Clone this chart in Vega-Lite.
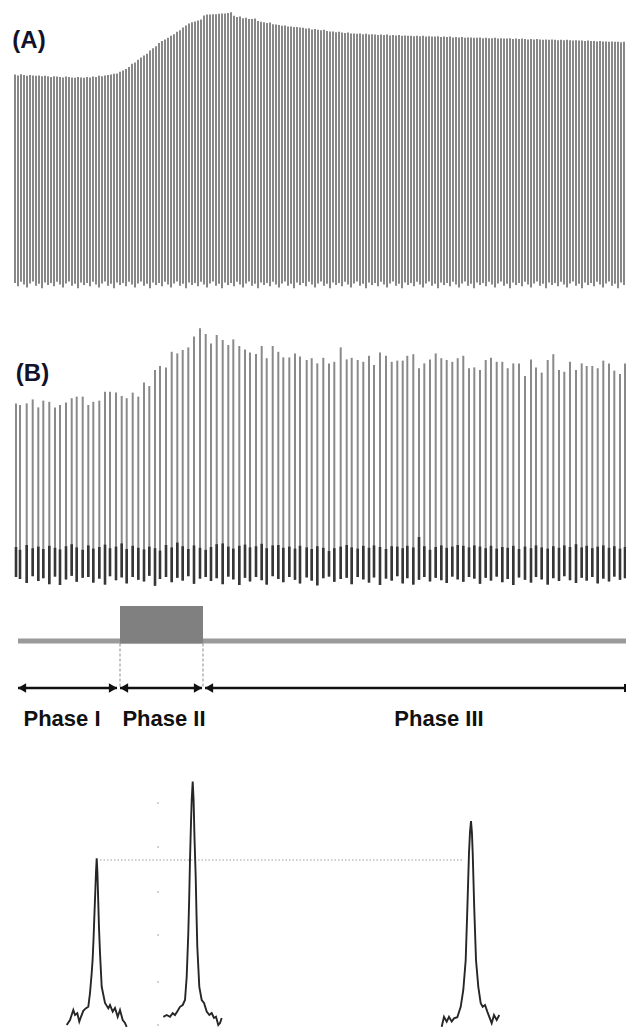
{
"$schema":"https://vega.github.io/schema/vega-lite/v6.json",
"padding":0,
"spacing":0,
"bounds":"flush",
"config":{"view":{"stroke":null},"font":"Liberation Sans"},
"datasets":{
"spikesA":[
{"t":15,"v":52.6,"b":0.5},{"t":18,"v":52.4,"b":-0.3},{"t":21,"v":52.7,"b":0.8},{"t":24,"v":52.5,"b":0.1},{"t":27,"v":52.3,"b":-0.6},{"t":30,"v":52.5,"b":0.4},{"t":33,"v":52.4,"b":0.9},{"t":36,"v":52.3,"b":-0.2},{"t":39,"v":52.4,"b":0.3},{"t":42,"v":52.2,"b":-0.8},{"t":45,"v":52.3,"b":0.6},{"t":48,"v":52.2,"b":0},
{"t":51,"v":52.0,"b":0.5},{"t":54,"v":52.2,"b":-0.3},{"t":57,"v":52.1,"b":0.8},{"t":60,"v":52.0,"b":0.1},{"t":63,"v":51.9,"b":-0.6},{"t":66,"v":52.1,"b":0.4},{"t":69,"v":52.0,"b":0.9},{"t":72,"v":51.9,"b":-0.2},{"t":75,"v":51.8,"b":0.3},{"t":78,"v":52.0,"b":-0.8},{"t":81,"v":51.9,"b":0.6},{"t":84,"v":51.8,"b":0},
{"t":87,"v":52.0,"b":0.5},{"t":90,"v":51.9,"b":-0.3},{"t":93,"v":52.1,"b":0.8},{"t":96,"v":52.0,"b":0.1},{"t":99,"v":52.3,"b":-0.6},{"t":102,"v":52.2,"b":0.4},{"t":105,"v":52.4,"b":0.9},{"t":108,"v":52.5,"b":-0.2},{"t":111,"v":52.6,"b":0.3},{"t":114,"v":52.8,"b":-0.8},{"t":117,"v":52.9,"b":0.6},{"t":120,"v":53.3,"b":0},
{"t":123,"v":53.6,"b":0.5},{"t":126,"v":54.0,"b":-0.3},{"t":129,"v":54.5,"b":0.8},{"t":132,"v":55.3,"b":0.1},{"t":135,"v":55.6,"b":-0.6},{"t":138,"v":56.3,"b":0.4},{"t":141,"v":56.9,"b":0.9},{"t":144,"v":57.4,"b":-0.2},{"t":147,"v":57.8,"b":0.3},{"t":150,"v":58.6,"b":-0.8},{"t":153,"v":59.2,"b":0.6},{"t":156,"v":59.7,"b":0},
{"t":159,"v":60.5,"b":0.5},{"t":162,"v":61.0,"b":-0.3},{"t":165,"v":61.4,"b":0.8},{"t":168,"v":61.8,"b":0.1},{"t":171,"v":62.3,"b":-0.6},{"t":174,"v":62.7,"b":0.4},{"t":177,"v":63.3,"b":0.9},{"t":180,"v":63.7,"b":-0.2},{"t":183,"v":64.4,"b":0.3},{"t":186,"v":64.9,"b":-0.8},{"t":189,"v":65.4,"b":0.6},{"t":192,"v":65.7,"b":0},
{"t":195,"v":65.9,"b":0.5},{"t":198,"v":66.1,"b":-0.3},{"t":201,"v":66.4,"b":0.8},{"t":204,"v":67.4,"b":0.1},{"t":207,"v":67.6,"b":-0.6},{"t":210,"v":67.6,"b":0.4},{"t":213,"v":67.7,"b":0.9},{"t":216,"v":67.7,"b":-0.2},{"t":219,"v":67.8,"b":0.3},{"t":222,"v":67.9,"b":-0.8},{"t":225,"v":67.9,"b":0.6},{"t":228,"v":68.0,"b":0},
{"t":231,"v":68.2,"b":0.5},{"t":234,"v":67.3,"b":-0.3},{"t":237,"v":67.0,"b":0.8},{"t":240,"v":67.1,"b":0.1},{"t":243,"v":66.7,"b":-0.6},{"t":246,"v":66.8,"b":0.4},{"t":249,"v":66.5,"b":0.9},{"t":252,"v":66.5,"b":-0.2},{"t":255,"v":66.6,"b":0.3},{"t":258,"v":66.0,"b":-0.8},{"t":261,"v":65.8,"b":0.6},{"t":264,"v":65.7,"b":0},
{"t":267,"v":65.5,"b":0.5},{"t":270,"v":65.6,"b":-0.3},{"t":273,"v":65.2,"b":0.8},{"t":276,"v":65.1,"b":0.1},{"t":279,"v":65.0,"b":-0.6},{"t":282,"v":64.8,"b":0.4},{"t":285,"v":64.9,"b":0.9},{"t":288,"v":64.6,"b":-0.2},{"t":291,"v":64.6,"b":0.3},{"t":294,"v":64.5,"b":-0.8},{"t":297,"v":64.5,"b":0.6},{"t":300,"v":64.4,"b":0},
{"t":303,"v":64.3,"b":0.5},{"t":306,"v":64.1,"b":-0.3},{"t":309,"v":64.2,"b":0.8},{"t":312,"v":63.9,"b":0.1},{"t":315,"v":64.0,"b":-0.6},{"t":318,"v":63.8,"b":0.4},{"t":321,"v":63.7,"b":0.9},{"t":324,"v":63.8,"b":-0.2},{"t":327,"v":63.5,"b":0.3},{"t":330,"v":63.4,"b":-0.8},{"t":333,"v":63.4,"b":0.6},{"t":336,"v":63.2,"b":0},
{"t":339,"v":63.3,"b":0.5},{"t":342,"v":63.1,"b":-0.3},{"t":345,"v":63.0,"b":0.8},{"t":348,"v":63.1,"b":0.1},{"t":351,"v":62.9,"b":-0.6},{"t":354,"v":62.9,"b":0.4},{"t":357,"v":62.8,"b":0.9},{"t":360,"v":62.9,"b":-0.2},{"t":363,"v":62.7,"b":0.3},{"t":366,"v":62.8,"b":-0.8},{"t":369,"v":62.6,"b":0.6},{"t":372,"v":62.7,"b":0},
{"t":375,"v":62.6,"b":0.5},{"t":378,"v":62.5,"b":-0.3},{"t":381,"v":62.6,"b":0.8},{"t":384,"v":62.5,"b":0.1},{"t":387,"v":62.6,"b":-0.6},{"t":390,"v":62.4,"b":0.4},{"t":393,"v":62.5,"b":0.9},{"t":396,"v":62.4,"b":-0.2},{"t":399,"v":62.5,"b":0.3},{"t":402,"v":62.3,"b":-0.8},{"t":405,"v":62.4,"b":0.6},{"t":408,"v":62.3,"b":0},
{"t":411,"v":62.3,"b":0.5},{"t":414,"v":62.2,"b":-0.3},{"t":417,"v":62.3,"b":0.8},{"t":420,"v":62.2,"b":0.1},{"t":423,"v":62.3,"b":-0.6},{"t":426,"v":62.1,"b":0.4},{"t":429,"v":62.2,"b":0.9},{"t":432,"v":62.1,"b":-0.2},{"t":435,"v":62.1,"b":0.3},{"t":438,"v":62.2,"b":-0.8},{"t":441,"v":62.0,"b":0.6},{"t":444,"v":62.1,"b":0},
{"t":447,"v":62.0,"b":0.5},{"t":450,"v":62.1,"b":-0.3},{"t":453,"v":61.9,"b":0.8},{"t":456,"v":62.0,"b":0.1},{"t":459,"v":61.9,"b":-0.6},{"t":462,"v":62.0,"b":0.4},{"t":465,"v":61.8,"b":0.9},{"t":468,"v":61.9,"b":-0.2},{"t":471,"v":61.9,"b":0.3},{"t":474,"v":61.8,"b":-0.8},{"t":477,"v":61.8,"b":0.6},{"t":480,"v":61.9,"b":0},
{"t":483,"v":61.7,"b":0.5},{"t":486,"v":61.8,"b":-0.3},{"t":489,"v":61.7,"b":0.8},{"t":492,"v":61.7,"b":0.1},{"t":495,"v":61.8,"b":-0.6},{"t":498,"v":61.6,"b":0.4},{"t":501,"v":61.7,"b":0.9},{"t":504,"v":61.6,"b":-0.2},{"t":507,"v":61.6,"b":0.3},{"t":510,"v":61.7,"b":-0.8},{"t":513,"v":61.5,"b":0.6},{"t":516,"v":61.6,"b":0},
{"t":519,"v":61.5,"b":0.5},{"t":522,"v":61.6,"b":-0.3},{"t":525,"v":61.5,"b":0.8},{"t":528,"v":61.4,"b":0.1},{"t":531,"v":61.5,"b":-0.6},{"t":534,"v":61.4,"b":0.4},{"t":537,"v":61.5,"b":0.9},{"t":540,"v":61.4,"b":-0.2},{"t":543,"v":61.3,"b":0.3},{"t":546,"v":61.4,"b":-0.8},{"t":549,"v":61.3,"b":0.6},{"t":552,"v":61.4,"b":0},
{"t":555,"v":61.3,"b":0.5},{"t":558,"v":61.2,"b":-0.3},{"t":561,"v":61.3,"b":0.8},{"t":564,"v":61.2,"b":0.1},{"t":567,"v":61.3,"b":-0.6},{"t":570,"v":61.2,"b":0.4},{"t":573,"v":61.1,"b":0.9},{"t":576,"v":61.2,"b":-0.2},{"t":579,"v":61.1,"b":0.3},{"t":582,"v":61.1,"b":-0.8},{"t":585,"v":61.0,"b":0.6},{"t":588,"v":61.1,"b":0},
{"t":591,"v":61.0,"b":0.5},{"t":594,"v":61.0,"b":-0.3},{"t":597,"v":60.9,"b":0.8},{"t":600,"v":61.0,"b":0.1},{"t":603,"v":60.9,"b":-0.6},{"t":606,"v":60.9,"b":0.4},{"t":609,"v":60.8,"b":0.9},{"t":612,"v":60.9,"b":-0.2},{"t":615,"v":60.8,"b":0.3},{"t":618,"v":60.8,"b":-0.8},{"t":621,"v":60.7,"b":0.6},{"t":624,"v":60.8,"b":0}
],
"spikesB":[
{"t":16,"v":43.4,"d":7.5,"b":0},{"t":20,"v":43.0,"d":6.8,"b":-0.5},{"t":26.7,"v":43.4,"d":8.0,"b":-1.5},{"t":32.7,"v":44.4,"d":7.2,"b":0.2},{"t":38.3,"v":42.4,"d":7.6,"b":-1.0},{"t":43.3,"v":44.1,"d":7.0,"b":-0.3},{"t":49.3,"v":43.8,"d":7.8,"b":-1.8},{"t":55,"v":42.4,"d":7.3,"b":0.1},{"t":60,"v":43.0,"d":6.9,"b":-2.0},{"t":66,"v":43.6,"d":7.7,"b":-0.6},
{"t":71.7,"v":44.7,"d":8.2,"b":0.3},{"t":76.7,"v":45.1,"d":7.4,"b":-1.2},{"t":82.7,"v":45.1,"d":6.8,"b":-0.2},{"t":88.3,"v":43.0,"d":7.9,"b":0},{"t":93.3,"v":43.8,"d":7.1,"b":-1.4},{"t":99.3,"v":44.1,"d":7.5,"b":-0.4},{"t":105,"v":46.3,"d":8.1,"b":-1.9},{"t":110,"v":46.3,"d":7.2,"b":0.2},{"t":116,"v":46.1,"d":7.6,"b":-0.8},{"t":121.7,"v":45.25,"d":8.4,"b":-0.1},
{"t":126.7,"v":44.7,"d":7.0,"b":-1.6},{"t":132.7,"v":46.1,"d":7.8,"b":0},{"t":138.3,"v":45.1,"d":7.3,"b":-0.7},{"t":144,"v":48.6,"d":6.9,"b":-1.1},{"t":149.3,"v":47.75,"d":7.6,"b":0.3},{"t":155,"v":51.75,"d":7.2,"b":-2.2},{"t":160,"v":52.75,"d":6.6,"b":-0.5},{"t":166,"v":52.4,"d":8.0,"b":0},{"t":171.7,"v":56.3,"d":7.4,"b":-1.3},{"t":177.3,"v":55.9,"d":8.6,"b":-0.2},
{"t":182.7,"v":56.75,"d":7.7,"b":-0.9},{"t":188.3,"v":57.4,"d":7.0,"b":0.2},{"t":194,"v":60.1,"d":7.9,"b":-1.7},{"t":200,"v":62.2,"d":7.3,"b":-0.4},{"t":205.7,"v":60.75,"d":6.8,"b":0},{"t":211,"v":58.4,"d":7.5,"b":-1.0},{"t":216.7,"v":60.5,"d":8.2,"b":-0.3},{"t":222.7,"v":59.25,"d":8.4,"b":-1.8},{"t":228.3,"v":58.0,"d":7.6,"b":0.1},{"t":233.3,"v":59.4,"d":7.1,"b":-0.6},
{"t":239.3,"v":57.75,"d":7.8,"b":-2.0},{"t":245,"v":56.9,"d":8.1,"b":-0.2},{"t":250,"v":56.1,"d":7.4,"b":-1.1},{"t":256,"v":55.75,"d":7.7,"b":0},{"t":261.7,"v":57.75,"d":8.3,"b":-0.8},{"t":266.7,"v":54.7,"d":7.2,"b":-1.9},{"t":272.7,"v":57.75,"d":7.9,"b":0.2},{"t":278.3,"v":56.3,"d":8.0,"b":-0.5},{"t":283.3,"v":54.9,"d":7.3,"b":-1.3},{"t":289.3,"v":54.9,"d":7.6,"b":0},
{"t":295,"v":55.9,"d":7.1,"b":-0.7},{"t":300,"v":55.1,"d":7.8,"b":-1.6},{"t":306.7,"v":54.25,"d":7.4,"b":-0.1},{"t":311.7,"v":54.7,"d":7.0,"b":-0.9},{"t":317.3,"v":53.4,"d":7.7,"b":-2.1},{"t":323.3,"v":54.8,"d":7.3,"b":-0.3},{"t":329,"v":53.4,"d":6.5,"b":0.1},{"t":334.3,"v":53.8,"d":7.2,"b":-1.2},{"t":340.7,"v":57.4,"d":7.6,"b":-0.5},{"t":346.7,"v":54.4,"d":8.0,"b":-0.2},
{"t":351.7,"v":54.8,"d":7.4,"b":-1.8},{"t":357.7,"v":54.25,"d":7.1,"b":0},{"t":363.3,"v":53.8,"d":7.8,"b":-0.6},{"t":369,"v":55.3,"d":7.3,"b":-1.4},{"t":374,"v":53.0,"d":7.9,"b":-0.1},{"t":380,"v":56.1,"d":7.5,"b":-2.0},{"t":386,"v":55.3,"d":7.0,"b":-0.4},{"t":391.7,"v":53.8,"d":7.7,"b":-0.9},{"t":397.3,"v":54.1,"d":7.6,"b":0.2},{"t":402.7,"v":54.1,"d":7.2,"b":-1.6},
{"t":407.3,"v":55.3,"d":7.8,"b":-0.3},{"t":413.3,"v":55.7,"d":7.4,"b":-1.9},{"t":419,"v":52.2,"d":10.0,"b":-0.7},{"t":424.3,"v":53.4,"d":7.7,"b":0},{"t":430,"v":54.4,"d":6.8,"b":-1.1},{"t":435.7,"v":55.9,"d":7.5,"b":-0.2},{"t":441.3,"v":54.7,"d":7.9,"b":-0.8},{"t":446.7,"v":54.25,"d":7.3,"b":-1.5},{"t":452.3,"v":53.8,"d":7.6,"b":0.1},{"t":457.7,"v":54.7,"d":8.0,"b":-0.6},
{"t":463.3,"v":55.3,"d":7.8,"b":-1.2},{"t":469,"v":52.2,"d":7.4,"b":0},{"t":474.3,"v":52.4,"d":7.9,"b":-0.4},{"t":480,"v":51.75,"d":7.6,"b":-1.7},{"t":485.7,"v":54.25,"d":7.2,"b":-0.2},{"t":491,"v":54.8,"d":7.8,"b":-0.9},{"t":496.7,"v":53.8,"d":7.1,"b":0.1},{"t":502.3,"v":53.8,"d":7.5,"b":-1.3},{"t":507.7,"v":52.2,"d":7.3,"b":-0.5},{"t":513.3,"v":53.4,"d":7.8,"b":-2.0},
{"t":519,"v":53.4,"d":7.0,"b":-0.1},{"t":525,"v":50.25,"d":7.6,"b":-0.7},{"t":531,"v":54.4,"d":7.2,"b":-1.4},{"t":536,"v":52.4,"d":7.9,"b":0},{"t":541.7,"v":51.1,"d":7.4,"b":-0.6},{"t":547.7,"v":54.25,"d":7.1,"b":-1.9},{"t":553.3,"v":55.7,"d":7.7,"b":-0.3},{"t":559,"v":51.75,"d":7.3,"b":-1.0},{"t":564.3,"v":51.3,"d":7.9,"b":0.2},{"t":570,"v":53.8,"d":7.5,"b":-0.8},
{"t":576,"v":51.75,"d":8.2,"b":-1.5},{"t":581.7,"v":53.4,"d":7.4,"b":-0.2},{"t":586.7,"v":52.75,"d":7.8,"b":-0.9},{"t":592.3,"v":52.75,"d":7.2,"b":0},{"t":597.7,"v":52.2,"d":7.6,"b":-1.6},{"t":603.3,"v":54.1,"d":7.9,"b":-0.4},{"t":609,"v":53.4,"d":7.3,"b":-1.1},{"t":614.3,"v":51.6,"d":7.7,"b":0.1},{"t":620,"v":50.75,"d":7.1,"b":-0.7},{"t":625,"v":53.4,"d":7.5,"b":-0.3}
],
"waves":[
{"w":"before","t":66.7,"v":1.25},{"w":"before","t":70,"v":2.5},{"w":"before","t":73.3,"v":5},{"w":"before","t":75,"v":3.75},{"w":"before","t":77.3,"v":4.2},{"w":"before","t":79.3,"v":2.1},{"w":"before","t":81,"v":3.3},{"w":"before","t":83.3,"v":4.8},{"w":"before","t":85.7,"v":5.4},{"w":"before","t":88.3,"v":5.8},{"w":"before","t":90,"v":9.25},{"w":"before","t":91.7,"v":14.25},{"w":"before","t":92.6,"v":17.5},{"w":"before","t":93.5,"v":22.5},{"w":"before","t":94.3,"v":28},{"w":"before","t":95.2,"v":34},{"w":"before","t":96,"v":39.5},{"w":"before","t":96.7,"v":42.9},{"w":"before","t":97.4,"v":39.5},{"w":"before","t":98.2,"v":32.5},{"w":"before","t":99,"v":25.5},{"w":"before","t":100,"v":19.25},{"w":"before","t":101.7,"v":10.8},{"w":"before","t":105,"v":6.75},{"w":"before","t":108.3,"v":5.4},{"w":"before","t":110,"v":6.25},{"w":"before","t":112.7,"v":4.6},{"w":"before","t":115,"v":5.5},{"w":"before","t":117.7,"v":3.3},{"w":"before","t":120,"v":5},{"w":"before","t":122.7,"v":2.5},{"w":"before","t":125,"v":1.75},{"w":"before","t":126.7,"v":0.8},
{"w":"during","t":163.3,"v":3.3},{"w":"during","t":166.7,"v":3.75},{"w":"during","t":170,"v":3.3},{"w":"during","t":172.7,"v":4.2},{"w":"during","t":175,"v":3.75},{"w":"during","t":177.7,"v":4.8},{"w":"during","t":180,"v":5.8},{"w":"during","t":182.7,"v":6.25},{"w":"during","t":185,"v":7.5},{"w":"during","t":186.7,"v":13.3},{"w":"during","t":188.3,"v":24.2},{"w":"during","t":189.2,"v":33},{"w":"during","t":190,"v":42.5},{"w":"during","t":190.9,"v":51},{"w":"during","t":191.7,"v":57.5},{"w":"during","t":192.7,"v":62.1},{"w":"during","t":193.6,"v":57.5},{"w":"during","t":194.5,"v":48},{"w":"during","t":195.7,"v":38.3},{"w":"during","t":196.5,"v":29},{"w":"during","t":197.3,"v":20.8},{"w":"during","t":199.3,"v":10.8},{"w":"during","t":201.7,"v":7.5},{"w":"during","t":204,"v":6.75},{"w":"during","t":206.7,"v":4.6},{"w":"during","t":209.3,"v":3.75},{"w":"during","t":211.7,"v":4.25},{"w":"during","t":214,"v":3},{"w":"during","t":216,"v":3.3},{"w":"during","t":218.3,"v":1.25},{"w":"during","t":220,"v":1.75},{"w":"during","t":221.7,"v":3},
{"w":"after","t":441.7,"v":0.8},{"w":"after","t":444,"v":3.3},{"w":"after","t":446.7,"v":2.1},{"w":"after","t":449,"v":3.3},{"w":"after","t":451.7,"v":2.1},{"w":"after","t":454,"v":2.9},{"w":"after","t":457.3,"v":3.2},{"w":"after","t":460.7,"v":5.8},{"w":"after","t":463.3,"v":10},{"w":"after","t":465.7,"v":17.5},{"w":"after","t":467.3,"v":30},{"w":"after","t":469,"v":44.25},{"w":"after","t":470,"v":49.5},{"w":"after","t":471,"v":52.25},{"w":"after","t":471.9,"v":49.5},{"w":"after","t":472.7,"v":44.25},{"w":"after","t":474.3,"v":30},{"w":"after","t":476,"v":17.5},{"w":"after","t":478.3,"v":10.8},{"w":"after","t":480.7,"v":6.7},{"w":"after","t":482.7,"v":5.8},{"w":"after","t":485,"v":6.25},{"w":"after","t":487.3,"v":4.6},{"w":"after","t":489.3,"v":3.3},{"w":"after","t":491.7,"v":1.7},{"w":"after","t":494,"v":3.75},{"w":"after","t":496.7,"v":2.5},{"w":"after","t":499.3,"v":3.75}
]
},
"vconcat":[
{
"width":626,"height":300,
"layer":[
{"data":{"name":"spikesA"},"mark":{"type":"rule","color":"#888888","strokeWidth":2,"clip":true},
"encoding":{"x":{"field":"t","type":"quantitative","scale":{"domain":[0,626],"nice":false,"zero":false},"axis":null},
"y":{"field":"v","type":"quantitative","scale":{"domain":[-3.75,71.25],"nice":false,"zero":false},"axis":null},
"y2":{"field":"b"}}},
{"data":{"values":[{"label":"(A)","t":29,"v":61}]},"mark":{"type":"text","font":"Liberation Sans","fontSize":24,"fontWeight":"bold","color":"#12122a","align":"center","baseline":"middle"},
"encoding":{"x":{"field":"t","type":"quantitative"},"y":{"field":"v","type":"quantitative"},"text":{"field":"label"}}}
]
},
{
"width":626,"height":290,
"layer":[
{"data":{"name":"spikesB"},"mark":{"type":"rule","color":"#8a8a8a","strokeWidth":2,"clip":true},
"encoding":{"x":{"field":"t","type":"quantitative","scale":{"domain":[0,626],"nice":false,"zero":false},"axis":null},
"y":{"field":"v","type":"quantitative","scale":{"domain":[-3.25,69.25],"nice":false,"zero":false},"axis":null},
"y2":{"field":"b"}}},
{"data":{"name":"spikesB"},"mark":{"type":"rule","color":"#363636","strokeWidth":2.6,"clip":true},
"encoding":{"x":{"field":"t","type":"quantitative"},"y":{"field":"d","type":"quantitative"},"y2":{"field":"b"}}},
{"data":{"values":[{"label":"(B)","t":32.5,"v":50.75}]},"mark":{"type":"text","font":"Liberation Sans","fontSize":24,"fontWeight":"bold","color":"#12122a","align":"center","baseline":"middle"},
"encoding":{"x":{"field":"t","type":"quantitative"},"y":{"field":"v","type":"quantitative"},"text":{"field":"label"}}}
]
},
{
"width":626,"height":150,
"layer":[
{"data":{"values":[{"a":18,"b":626,"lev":99}]},"mark":{"type":"rule","color":"#9a9a9a","strokeWidth":5},
"encoding":{"x":{"field":"a","type":"quantitative","scale":{"domain":[0,626],"nice":false,"zero":false},"axis":null},"x2":{"field":"b"},
"y":{"field":"lev","type":"quantitative","scale":{"domain":[0,150],"nice":false,"zero":false},"axis":null}}},
{"data":{"values":[{"a":120,"b":203,"lev":96.5,"top":134}]},"mark":{"type":"rect","color":"#808080"},
"encoding":{"x":{"field":"a","type":"quantitative"},"x2":{"field":"b"},"y":{"field":"top","type":"quantitative"},"y2":{"field":"lev"}}},
{"data":{"values":[{"a":120,"lev":96.5,"low":53},{"a":203,"lev":96.5,"low":53}]},"mark":{"type":"rule","color":"#8a8a8a","strokeWidth":1,"strokeDash":[3,2]},
"encoding":{"x":{"field":"a","type":"quantitative"},"y":{"field":"lev","type":"quantitative"},"y2":{"field":"low"}}},
{"data":{"values":[{"a":18,"b":117,"lev":52},{"a":120,"b":202,"lev":52},{"a":205,"b":626,"lev":52}]},"mark":{"type":"rule","color":"#111111","strokeWidth":2.5},
"encoding":{"x":{"field":"a","type":"quantitative"},"x2":{"field":"b"},"y":{"field":"lev","type":"quantitative"}}},
{"data":{"values":[{"a":625,"lev":56,"low":48}]},"mark":{"type":"rule","color":"#111111","strokeWidth":2},
"encoding":{"x":{"field":"a","type":"quantitative"},"y":{"field":"lev","type":"quantitative"},"y2":{"field":"low"}}},
{"data":{"values":[{"a":22,"lev":52,"dir":"triangle-left"},{"a":113,"lev":52,"dir":"triangle-right"},{"a":124,"lev":52,"dir":"triangle-left"},{"a":198,"lev":52,"dir":"triangle-right"},{"a":209,"lev":52,"dir":"triangle-left"}]},
"mark":{"type":"point","filled":true,"color":"#111111","size":90,"opacity":1},
"encoding":{"x":{"field":"a","type":"quantitative"},"y":{"field":"lev","type":"quantitative"},"shape":{"field":"dir","type":"nominal","scale":null}}},
{"data":{"values":[{"label":"Phase I","a":62,"lev":21},{"label":"Phase II","a":164,"lev":21},{"label":"Phase III","a":439,"lev":21}]},
"mark":{"type":"text","font":"Liberation Sans","fontSize":22,"fontWeight":"bold","color":"#111111","align":"center","baseline":"middle"},
"encoding":{"x":{"field":"a","type":"quantitative"},"y":{"field":"lev","type":"quantitative"},"text":{"field":"label"}}}
]
},
{
"width":626,"height":290,
"layer":[
{"data":{"values":[{"t":158,"v":56.75},{"t":158,"v":45.75},{"t":158,"v":34.5},{"t":158,"v":23.75},{"t":158,"v":12},{"t":158,"v":1.25}]},
"mark":{"type":"point","filled":true,"color":"#c8c8c8","size":5,"opacity":1},
"encoding":{"x":{"field":"t","type":"quantitative","scale":{"domain":[0,626],"nice":false,"zero":false},"axis":null},
"y":{"field":"v","type":"quantitative","scale":{"domain":[0,72.5],"nice":false,"zero":false},"axis":null}}},
{"data":{"values":[{"a":100,"b":463,"v":42.5}]},"mark":{"type":"rule","color":"#9a9a9a","strokeWidth":1,"strokeDash":[1.5,2]},
"encoding":{"x":{"field":"a","type":"quantitative"},"x2":{"field":"b"},"y":{"field":"v","type":"quantitative"}}},
{"data":{"name":"waves"},"mark":{"type":"line","color":"#262626","strokeWidth":1.9,"interpolate":"linear"},
"encoding":{"x":{"field":"t","type":"quantitative"},"y":{"field":"v","type":"quantitative"},"detail":{"field":"w","type":"nominal"}}}
]
}
]
}
